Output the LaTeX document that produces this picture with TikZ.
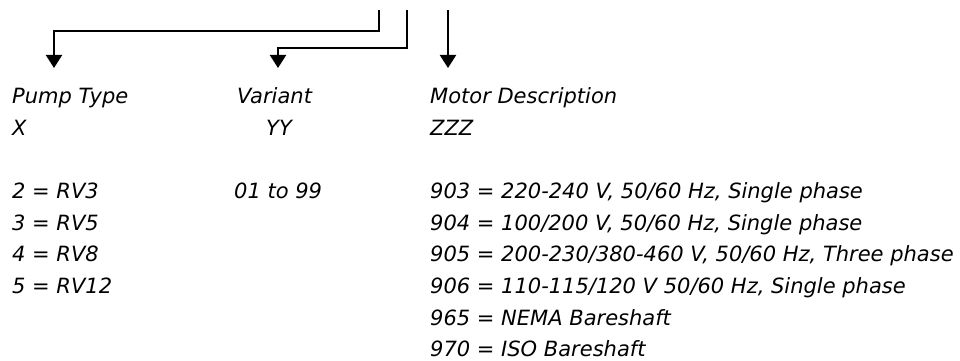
\documentclass[tikz,border=0pt]{standalone}
\usepackage{fontspec}
\setmainfont{DejaVu Sans}
\usetikzlibrary{arrows.meta}
\begin{document}
\begin{tikzpicture}[x=1pt,y=-1pt,
  lbl/.style={anchor=base west, inner sep=0pt, font=\fontsize{21}{24}\selectfont\itshape},
  arr/.style={line width=2.2pt, -{Triangle[width=16pt,length=13pt]}}]
\useasboundingbox (0,0) rectangle (960,361);
% column headers
\node[lbl] (pump) at (12,103) {Pump Type};
\node[lbl] (var) at (237,103) {Variant};
\node[lbl] (mot) at (430,103) {Motor Description};
\node[lbl] (x) at (12,135) {X};
\node[lbl] (yy) at (266,135) {YY};
\node[lbl] (zzz) at (430,135) {ZZZ};
% left column
\node[lbl] (p2) at (12,198) {2 = RV3};
\node[lbl] (p3) at (12,230) {3 = RV5};
\node[lbl] (p4) at (12,261) {4 = RV8};
\node[lbl] (p5) at (12,293) {5 = RV12};
% middle column
\node[lbl] (vr) at (234,198) {01 to 99};
% right column
\node[lbl] (m903) at (430,198) {903 = 220-240 V, 50/60 Hz, Single phase};
\node[lbl] (m904) at (430,230) {904 = 100/200 V, 50/60 Hz, Single phase};
\node[lbl] (m905) at (430,261) {905 = 200-230/380-460 V, 50/60 Hz, Three phase};
\node[lbl] (m906) at (430,293) {906 = 110-115/120 V 50/60 Hz, Single phase};
\node[lbl] (m965) at (430,325) {965 = NEMA Bareshaft};
\node[lbl] (m970) at (430,356) {970 = ISO Bareshaft};
% connector ends
\coordinate (s1) at (379,10);
\coordinate (s2) at (407,10);
\coordinate (s3) at (448,10);
\coordinate (t1) at (54,68);
\coordinate (t2) at (278,68);
\coordinate (t3) at (448,68);
\draw[arr] (s1) -- ++(0,21) -| (t1);
\draw[arr] (s2) -- ++(0,38) -| (t2);
\draw[arr] (s3) -- (t3);
\end{tikzpicture}
\end{document}
